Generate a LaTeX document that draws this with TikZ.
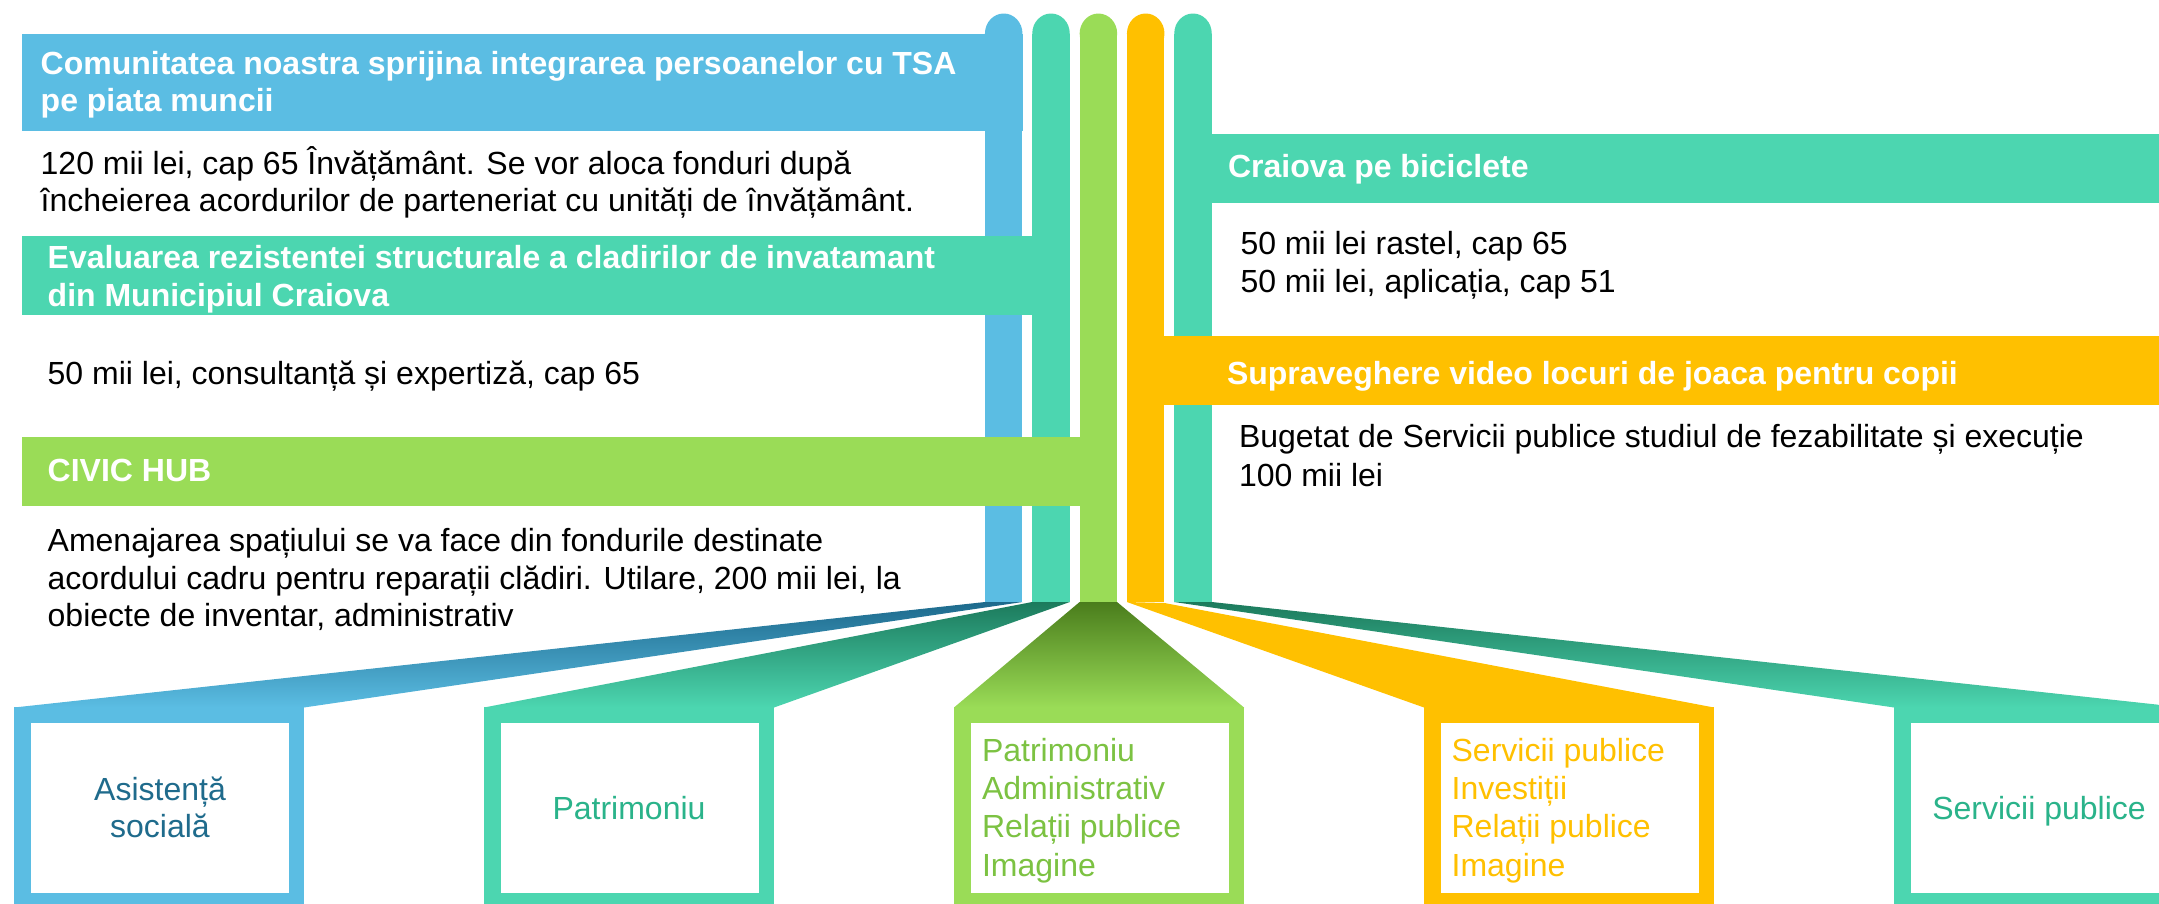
\documentclass[tikz,border=0pt]{standalone}
\usepackage{fontspec}
\setmainfont{Liberation Sans}
\definecolor{cblue}{HTML}{5BBDE3}
\definecolor{cteal}{HTML}{4CD6B0}
\definecolor{cgreen}{HTML}{9ADC57}
\definecolor{corange}{HTML}{FFC000}
\definecolor{dblue}{HTML}{1D6A8C}
\definecolor{dteal}{HTML}{1C7A5C}
\definecolor{dgreen}{HTML}{4A7D1C}
\definecolor{tblue}{HTML}{1F6B8C}
\definecolor{tteal}{HTML}{2AB38A}
\definecolor{tgreen}{HTML}{7CC242}
\begin{document}
\begin{tikzpicture}[x=1pt,y=-1pt,
  txt/.style={inner sep=0pt, outer sep=0pt, font=\fontsize{32}{38}\selectfont},
  hdr/.style={txt, anchor=base west, text=white, font=\fontsize{32}{38}\selectfont\bfseries},
  body/.style={txt, anchor=base west, text=black},
  boxc/.style={txt, anchor=base},
  boxl/.style={txt, anchor=base west}]
\path[use as bounding box, clip] (0,0) rectangle (2159,903);

% pillars
\foreach \cx/\col in {1003.7/cblue, 1051/cteal, 1098.4/cgreen, 1145.7/corange, 1193/cteal} {
  \fill[\col] (\cx,33.5) ellipse [x radius=18.75, y radius=20];
  \fill[\col] (\cx-18.75,33.5) rectangle (\cx+18.75,602);
}

% bands
\fill[cblue] (22,34) rectangle (1022.5,131);
\fill[cteal] (22,236) rectangle (1069.8,315);
\fill[cgreen] (22,437) rectangle (1117,506);
\fill[cteal] (1174,134) rectangle (2159,203);
\fill[corange] (1126.9,336) rectangle (2159,405);

% connectors
\shade[top color=dblue, bottom color=cblue] (985,602) -- (1022.5,602) -- (304,707.5) -- (14,707.5) -- cycle;
\shade[top color=dteal, bottom color=cteal] (1032.2,602) -- (1069.8,602) -- (774,707.5) -- (484,707.5) -- cycle;
\shade[top color=dgreen, bottom color=cgreen] (1079.6,602) -- (1117,602) -- (1244,707.5) -- (954,707.5) -- cycle;
\fill[corange] (1126.9,602) -- (1164.5,603) -- (1714,707.5) -- (1424,707.5) -- cycle;
\shade[top color=dteal, bottom color=cteal] (1174.2,602) -- (1211.8,602) -- (2184,707.5) -- (1894,707.5) -- cycle;

% boxes
\foreach \bx/\col in {14/cblue, 484/cteal, 954/cgreen, 1424/corange, 1894/cteal} {
  \fill[\col] (\bx,707) rectangle (\bx+290,920);
  \fill[white] (\bx+16.5,723.3) rectangle (\bx+274.5,892.7);
}

% left texts
\node[hdr] (h1a) at (40.7,74) {Comunitatea noastra sprijina integrarea persoanelor cu TSA};
\node[hdr] (h1b) at (40.7,111.7) {pe piata muncii};
\node[body] (b1a) at (40.7,174) {120 mii lei, cap 65 Învățământ. Se vor aloca fonduri după};
\node[body] (b1b) at (40.7,211.7) {încheierea acordurilor de parteneriat cu unități de învățământ.};
\node[hdr] (h2a) at (47.7,268.3) {Evaluarea rezistentei structurale a cladirilor de invatamant};
\node[hdr] (h2b) at (47.7,306) {din Municipiul Craiova};
\node[body] (b2) at (47.7,384.3) {50 mii lei, consultanță și expertiză, cap 65};
\node[hdr] (h3) at (47.7,481) {CIVIC HUB};
\node[body] (b3a) at (47.7,551.7) {Amenajarea spațiului se va face din fondurile destinate};
\node[body] (b3b) at (47.7,589.3) {acordului cadru pentru reparații clădiri. Utilare, 200 mii lei, la};
\node[body] (b3c) at (47.7,626.7) {obiecte de inventar, administrativ};

% right texts
\node[hdr] (h4) at (1228,177.3) {Craiova pe biciclete};
\node[body] (b4a) at (1240.5,254) {50 mii lei rastel, cap 65};
\node[body] (b4b) at (1240.5,292.7) {50 mii lei, aplicația, cap 51};
\node[hdr] (h5) at (1227,384) {Supraveghere video locuri de joaca pentru copii};
\node[body] (b5a) at (1239,447.7) {Bugetat de Servicii publice studiul de fezabilitate și execuție};
\node[body] (b5b) at (1239,486.7) {100 mii lei};

% box texts
\node[boxc, text=tblue] (k1a) at (160,800) {Asistență};
\node[boxc, text=tblue] (k1b) at (160,837.7) {socială};
\node[boxc, text=tteal] (k2) at (629,819) {Patrimoniu};
\node[boxl, text=tgreen] (k3a) at (982,761) {Patrimoniu};
\node[boxl, text=tgreen] (k3b) at (982,799.3) {Administrativ};
\node[boxl, text=tgreen] (k3c) at (982,837.7) {Relații publice};
\node[boxl, text=tgreen] (k3d) at (982,876) {Imagine};
\node[boxl, text=corange] (k4a) at (1451.6,761) {Servicii publice};
\node[boxl, text=corange] (k4b) at (1451.6,799.3) {Investiții};
\node[boxl, text=corange] (k4c) at (1451.6,837.7) {Relații publice};
\node[boxl, text=corange] (k4d) at (1451.6,876) {Imagine};
\node[boxc, text=tteal] (k5) at (2039,819) {Servicii publice};
\end{tikzpicture}
\end{document}
